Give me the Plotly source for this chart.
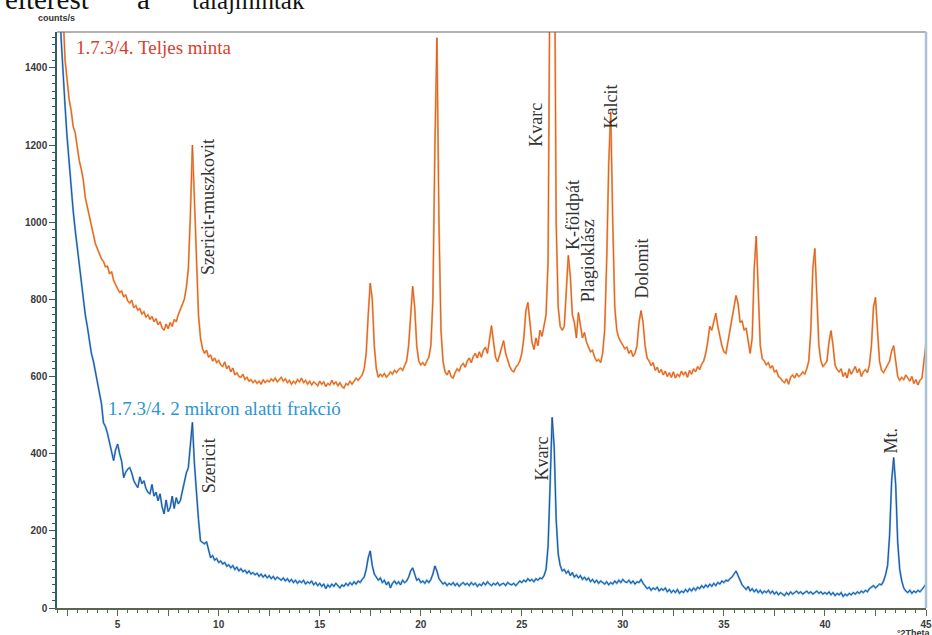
import plotly.graph_objects as go

# 2-theta scan grid: start and step (degrees)
theta_start = 2.0
theta_step = 0.1

# Counts/s, "1.7.3/4. Teljes minta" (one row per degree, 2.0 ... 45.0)
teljes_minta = [
    2200, 1950, 1720, 1540, 1420, 1365, 1318, 1290, 1248, 1232,   # 2
    1196, 1160, 1138, 1110, 1064, 1042, 1018, 990, 968, 944,      # 3
    930, 918, 905, 898, 884, 886, 866, 872, 850, 838,             # 4
    826, 818, 822, 806, 812, 796, 790, 798, 778, 784,             # 5
    772, 776, 762, 768, 754, 760, 748, 756, 742, 750,             # 6
    734, 742, 726, 720, 736, 724, 740, 730, 748, 742,             # 7
    760, 772, 788, 800, 830, 880, 1020, 1200, 1060, 880,          # 8
    760, 700, 672, 660, 668, 650, 656, 640, 648, 636,             # 9
    642, 630, 626, 638, 620, 628, 612, 622, 604, 610,             # 10
    600, 598, 606, 592, 598, 588, 592, 584, 590, 582,             # 11
    588, 580, 592, 584, 590, 586, 594, 588, 596, 586,             # 12
    592, 598, 588, 594, 584, 590, 580, 588, 582, 592,             # 13
    586, 596, 584, 590, 580, 588, 578, 586, 582, 576,             # 14
    588, 580, 586, 574, 582, 578, 590, 580, 586, 576,             # 15
    584, 574, 570, 582, 578, 588, 580, 590, 596, 590,             # 16
    598, 604, 620, 660, 760, 842, 800, 680, 620, 598,             # 17
    606, 600, 608, 598, 604, 612, 606, 616, 610, 618,             # 18
    622, 616, 628, 640, 680, 770, 834, 780, 680, 640,             # 19
    630, 636, 628, 640, 650, 680, 800, 1200, 1478, 1000,          # 20
    720, 640, 612, 604, 616, 600, 596, 610, 620, 614,             # 21
    628, 634, 624, 640, 648, 636, 652, 660, 648, 664,             # 22
    650, 668, 676, 660, 700, 732, 690, 650, 638, 656,             # 23
    672, 693, 660, 640, 626, 616, 612, 624, 630, 640,             # 24
    660, 700, 770, 792, 740, 690, 670, 700, 680, 720,             # 25
    704, 730, 760, 900, 1900, 2600, 1900, 1000, 780, 730,         # 26
    720, 730, 820, 914, 860, 760, 740, 700, 766, 730,             # 27
    700, 714, 690, 676, 664, 668, 650, 640, 644, 636,             # 28
    660, 720, 900, 1150, 1286, 1000, 780, 720, 700, 690,          # 29
    682, 672, 676, 660, 668, 652, 660, 680, 740, 771,             # 30
    740, 680, 648, 640, 628, 636, 616, 624, 610, 618,             # 31
    604, 614, 600, 610, 598, 612, 596, 606, 600, 614,             # 32
    604, 612, 598, 616, 606, 620, 612, 626, 618, 632,             # 33
    640, 660, 690, 730, 720, 745, 764, 730, 700, 680,             # 34
    664, 660, 690, 720, 740, 770, 810, 790, 740, 744,             # 35
    720, 726, 690, 660, 700, 880, 964, 800, 680, 646,             # 36
    640, 630, 636, 622, 628, 612, 616, 600, 596, 588,             # 37
    584, 594, 580, 598, 604, 596, 608, 600, 604, 612,             # 38
    606, 620, 640, 720, 880, 932, 820, 680, 640, 626,             # 39
    632, 640, 690, 719, 680, 630, 618, 612, 620, 600,             # 40
    610, 596, 620, 606, 616, 626, 610, 620, 600, 612,             # 41
    618, 610, 630, 680, 780, 805, 720, 640, 616, 610,             # 42
    620, 630, 640, 666, 680, 640, 600, 590, 598, 592,             # 43
    604, 596, 588, 600, 582, 592, 578, 590, 596, 640,             # 44
    686,                                                          # 45
]

# Counts/s, "1.7.3/4. 2 mikron alatti frakció"
mikron_frakcio = [
    2000, 1650, 1480, 1380, 1300, 1220, 1150, 1080, 1030, 980,    # 2
    935, 900, 850, 800, 760, 730, 690, 660, 640, 610,             # 3
    590, 560, 530, 480, 470, 452, 430, 410, 382, 410,             # 4
    425, 400, 380, 338, 352, 360, 364, 350, 330, 320,             # 5
    312, 340, 322, 330, 310, 300, 296, 320, 290, 300,             # 6
    278, 296, 262, 244, 280, 250, 260, 290, 258, 286,             # 7
    270, 278, 300, 330, 350, 364, 430, 481, 374, 290,             # 8
    230, 174, 170, 166, 172, 150, 130, 136, 124, 128,             # 9
    118, 122, 114, 118, 108, 112, 104, 110, 100, 106,             # 10
    96, 102, 94, 98, 90, 96, 88, 92, 86, 90,                      # 11
    82, 88, 80, 86, 78, 84, 76, 82, 74, 80,                       # 12
    76, 72, 78, 70, 76, 68, 74, 66, 72, 64,                       # 13
    70, 66, 72, 62, 68, 64, 70, 60, 66, 58,                       # 14
    64, 56, 62, 50, 60, 54, 62, 56, 64, 58,                       # 15
    52, 60, 56, 64, 58, 66, 60, 68, 62, 70,                       # 16
    66, 74, 80, 100, 130, 148, 110, 88, 80, 72,                   # 17
    78, 66, 72, 60, 68, 52, 64, 70, 62, 68,                       # 18
    60, 72, 66, 70, 80, 96, 104, 90, 72, 76,                      # 19
    66, 70, 64, 72, 66, 74, 88, 109, 96, 76,                      # 20
    68, 62, 66, 58, 64, 60, 66, 58, 64, 56,                       # 21
    62, 66, 60, 64, 58, 66, 60, 64, 56, 62,                       # 22
    58, 66, 60, 68, 62, 58, 64, 60, 66, 58,                       # 23
    62, 64, 58, 66, 62, 60, 64, 58, 64, 70,                       # 24
    66, 72, 68, 76, 70, 74, 68, 76, 72, 78,                       # 25
    76, 84, 100, 160, 320, 494, 420, 230, 140, 110,               # 26
    96, 100, 90, 96, 84, 92, 80, 86, 78, 84,                      # 27
    74, 80, 72, 78, 68, 74, 66, 72, 64, 70,                       # 28
    66, 62, 68, 60, 66, 62, 70, 64, 72, 66,                       # 29
    74, 68, 66, 72, 64, 70, 62, 68, 66, 74,                       # 30
    64, 56, 50, 54, 46, 52, 48, 54, 44, 50,                       # 31
    46, 52, 42, 48, 40, 46, 40, 48, 38, 44,                       # 32
    40, 48, 42, 50, 44, 52, 46, 54, 50, 58,                       # 33
    52, 60, 54, 62, 56, 64, 58, 66, 62, 70,                       # 34
    66, 72, 70, 76, 80, 88, 96, 84, 70, 60,                       # 35
    54, 48, 56, 44, 50, 42, 48, 40, 46, 38,                       # 36
    44, 40, 46, 38, 44, 36, 42, 34, 40, 36,                       # 37
    32, 40, 34, 42, 36, 40, 44, 38, 42, 36,                       # 38
    40, 44, 38, 42, 36, 40, 44, 38, 42, 36,                       # 39
    40, 36, 42, 34, 40, 32, 38, 34, 40, 30,                       # 40
    36, 32, 38, 34, 40, 36, 42, 38, 44, 40,                       # 41
    46, 42, 50, 54, 58, 52, 56, 62, 60, 70,                       # 42
    86, 110, 190, 330, 390, 320, 170, 100, 70, 52,                # 43
    44, 40, 46, 38, 44, 40, 46, 42, 48, 54,                       # 44
    62,                                                           # 45
]

# Axis ticks
x_tickvals = [2.5, 5, 7.5, 10, 12.5, 15, 17.5, 20, 22.5, 25, 27.5, 30,
              32.5, 35, 37.5, 40, 42.5, 45]
x_ticktext = ["", "5", "", "10", "", "15", "", "20", "", "25", "", "30",
              "", "35", "", "40", "", "45"]
y_tickvals = [0, 200, 400, 600, 800, 1000, 1200, 1400]

# Peak labels (text, 2theta, counts)
peak_labels = [
    ("Szericit-muszkovit", 9.46, 1039),
    ("Kvarc", 25.69, 1252),
    ("K-földpát", 27.57, 1018),
    ("Plagioklász", 28.27, 901),
    ("Kalcit", 29.4, 1299),
    ("Dolomit", 30.9, 880),
    ("Szericit", 9.5, 369),
    ("Kvarc", 25.99, 387),
    ("Mt.", 43.27, 434),
]

# Cut-off line of the surrounding document text (words)
page_words = ["elterést", "a", "talajminták"]

x_teljes = [round(theta_start + i * theta_step, 2) for i in range(len(teljes_minta))]
x_mikron = [round(theta_start + i * theta_step, 2) for i in range(len(mikron_frakcio))]

L, R, T, B = 57, 6, 32, 27
W, H = 932, 635
PW, PH = W - L - R, H - T - B


def px_x(px):
    return (px - L) / PW


def px_y(py):
    return 1 - (py - T) / PH


fig = go.Figure()
# two-tone lines (light under-stroke + dark thin stroke)
fig.add_trace(go.Scatter(x=x_teljes, y=teljes_minta, mode="lines",
                         line=dict(color="#f4b064", width=2.0), hoverinfo="skip"))
fig.add_trace(go.Scatter(x=x_teljes, y=teljes_minta, mode="lines",
                         line=dict(color="#d9532a", width=0.9), name="Teljes minta"))
fig.add_trace(go.Scatter(x=x_mikron, y=mikron_frakcio, mode="lines",
                         line=dict(color="#5db8e8", width=2.0), hoverinfo="skip"))
fig.add_trace(go.Scatter(x=x_mikron, y=mikron_frakcio, mode="lines",
                         line=dict(color="#2b3c8e", width=0.9), name="2 mikron alatti frakció"))

serif = "Liberation Serif, Times New Roman, serif"
for txt, xv, yv in peak_labels:
    fig.add_annotation(x=xv, y=yv, text=txt, textangle=-90, showarrow=False,
                       font=dict(family=serif, size=18, color="#333333"),
                       xanchor="center", yanchor="middle")

fig.add_annotation(x=2.84, y=1452, text="1.7.3/4. Teljes minta", showarrow=False,
                   xanchor="left", yanchor="middle",
                   font=dict(family=serif, size=19, color="#d8402c"))
fig.add_annotation(x=4.41, y=517, text="1.7.3/4. 2 mikron alatti frakció", showarrow=False,
                   xanchor="left", yanchor="middle",
                   font=dict(family=serif, size=19, color="#2b96d2"))

fig.add_annotation(xref="paper", yref="paper", x=px_x(36), y=px_y(18), text="<b>counts/s</b>",
                   showarrow=False, xanchor="left", yanchor="middle",
                   font=dict(family="Liberation Sans, Arial", size=9, color="#333333"))
fig.add_annotation(xref="paper", yref="paper", x=px_x(933), y=px_y(633), text="<b>°2Theta</b>",
                   showarrow=False, xanchor="right", yanchor="middle",
                   font=dict(family="Liberation Sans, Arial", size=9, color="#333333"))
for word, left_px, size, bottom_py in zip(page_words, [3, 135, 190], [29, 29, 25], [17, 17, 16]):
    fig.add_annotation(xref="paper", yref="paper", x=px_x(left_px), y=px_y(bottom_py),
                       text=word, showarrow=False, xanchor="left", yanchor="bottom",
                       font=dict(family=serif, size=size, color="#111111"))

# frame: top and right borders
fig.add_shape(type="line", xref="paper", yref="paper", x0=0, x1=1, y0=1, y1=1,
              line=dict(color="#666666", width=1.2))
fig.add_shape(type="line", xref="paper", yref="paper", x0=1, x1=1, y0=0, y1=1,
              line=dict(color="#a9c4d4", width=2.5))

fig.update_layout(
    width=W, height=H,
    margin=dict(l=L, r=R, t=T, b=B, autoexpand=False),
    paper_bgcolor="white", plot_bgcolor="white",
    showlegend=False,
    xaxis=dict(range=[2.0, 45.0], tickvals=x_tickvals, ticktext=x_ticktext,
               ticks="outside", ticklen=6, tickcolor="#5a6650", tickwidth=1,
               showline=True, linecolor="#5a6650", linewidth=1.5,
               showgrid=False, zeroline=False, automargin=False,
               minor=dict(dtick=0.5, ticks="outside", ticklen=3, tickcolor="#5a6650",
                          showgrid=False),
               tickfont=dict(family="Liberation Sans, Arial", size=10,
                             color="#3a3a3a", weight="bold")),
    yaxis=dict(range=[0, 1493], tickvals=y_tickvals,
               ticks="outside", ticklen=6, tickcolor="#2f5f63", tickwidth=1,
               showline=True, linecolor="#2f5f63", linewidth=1.5,
               showgrid=False, zeroline=False, automargin=False,
               minor=dict(dtick=20, ticks="outside", ticklen=3, tickcolor="#2f5f63",
                          showgrid=False),
               tickfont=dict(family="Liberation Sans, Arial", size=10,
                             color="#3a3a3a", weight="bold")),
)

# remove the default 8px page margin so the figure fills the window exactly
fig.write_html("out.html", config={"displayModeBar": False},
               post_script="document.body.style.margin='0';document.body.style.overflow='hidden';")
